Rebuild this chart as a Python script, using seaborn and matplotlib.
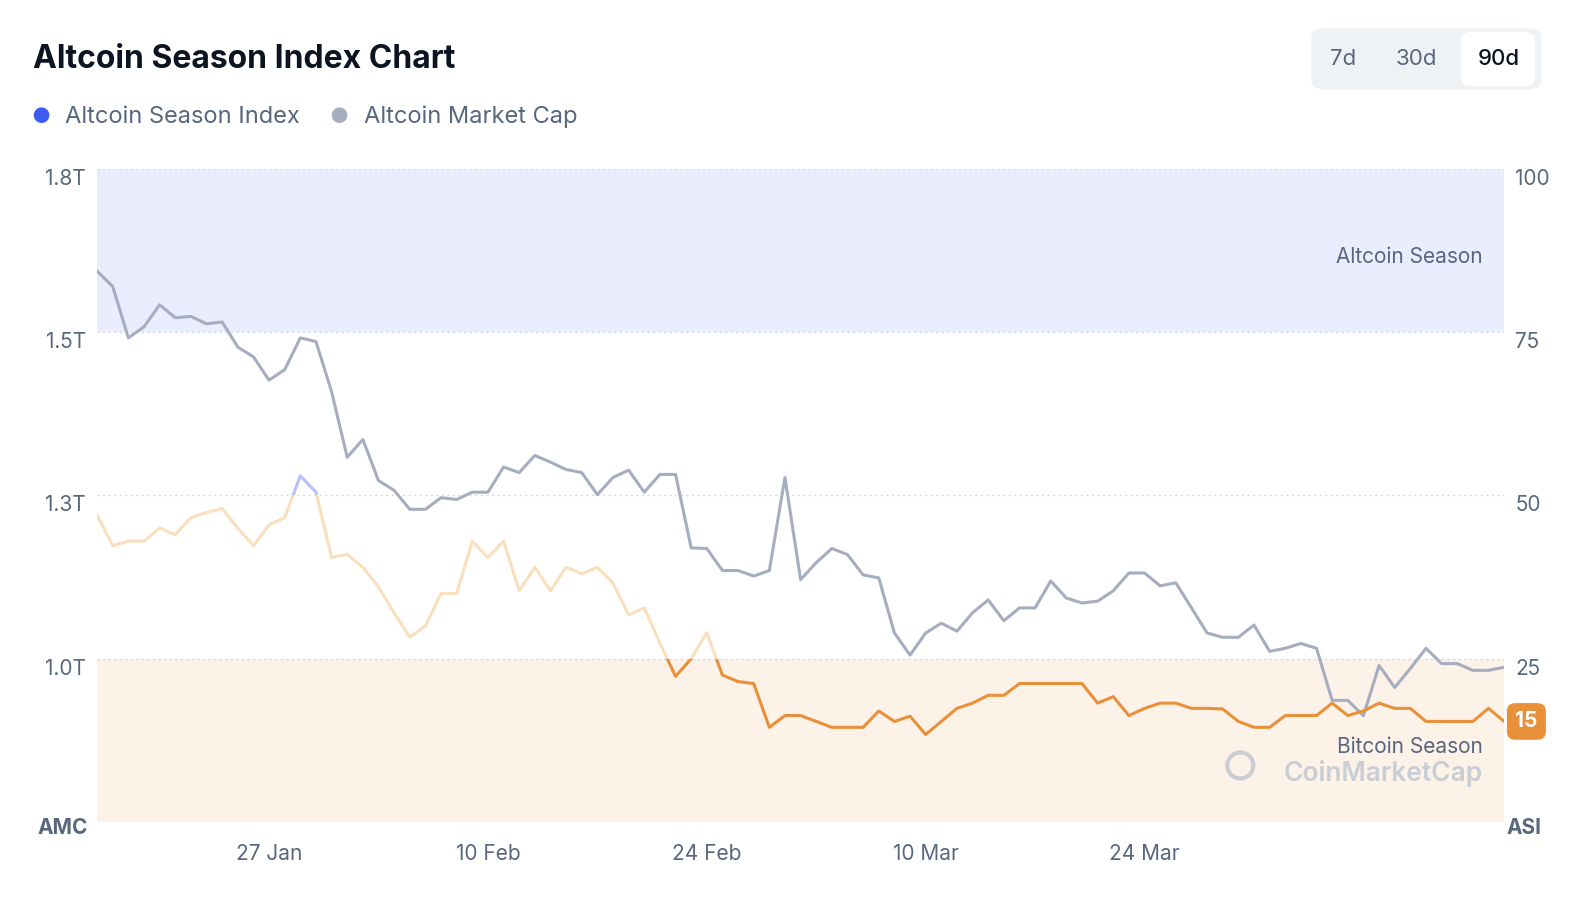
import numpy as np
import pandas as pd
import matplotlib.pyplot as plt
import seaborn as sns
from matplotlib.patches import Rectangle, FancyBboxPatch, Ellipse

plt.rcParams["font.family"] = "Inter"

dates = pd.date_range("2025-01-16", periods=91, freq="D")

season_index = [47, 42.3, 43, 43, 45, 44, 46.6, 47.4, 48, 45, 42.3, 45.5, 46.6, 53, 50.5,
                40.5, 41, 39, 36, 32, 28.3, 30, 35, 35, 43, 40.5, 43, 35.4, 39, 35.4,
                39, 38, 39, 36.6, 31.7, 32.8, 27.4, 22.3, 25, 29, 22.5, 21.5, 21.2, 14.5, 16.3,
                16.3, 15.4, 14.5, 14.5, 14.5, 17, 15.4, 16.2, 13.4, 15.4, 17.4, 18.2, 19.4, 19.4, 21.2,
                21.2, 21.2, 21.2, 21.2, 18.2, 19.2, 16.3, 17.4, 18.2, 18.2, 17.4, 17.4, 17.3, 15.4, 14.5,
                14.5, 16.3, 16.3, 16.3, 18.2, 16.3, 17, 18.2, 17.4, 17.4, 15.4, 15.4, 15.4, 15.4, 17.4, 15.4]

market_cap = [1.633, 1.608, 1.524, 1.542, 1.578, 1.557, 1.559, 1.547, 1.550, 1.509, 1.493, 1.455,
              1.472, 1.524, 1.518, 1.436, 1.329, 1.358, 1.291, 1.275, 1.244, 1.244, 1.263, 1.260,
              1.272, 1.272, 1.313, 1.304, 1.332, 1.321, 1.309, 1.304, 1.268, 1.296, 1.308, 1.272,
              1.301, 1.301, 1.181, 1.180, 1.144, 1.144, 1.135, 1.144, 1.296, 1.129, 1.157, 1.180,
              1.170, 1.137, 1.132, 1.042, 1.006, 1.042, 1.058, 1.045, 1.075, 1.096, 1.062, 1.083,
              1.083, 1.127, 1.099, 1.091, 1.094, 1.111, 1.140, 1.140, 1.119, 1.124, 1.083, 1.042,
              1.035, 1.035, 1.055, 1.012, 1.017, 1.025, 1.017, 0.932, 0.932, 0.907, 0.989, 0.953,
              0.984, 1.017, 0.992, 0.992, 0.981, 0.981, 0.986]

cap_ticks = [1.0, 1.2667, 1.5333, 1.8]
cap_labels = ["1.0T", "1.3T", "1.5T", "1.8T"]
index_ticks = [25, 50, 75, 100]
date_ticks = ["2025-01-27", "2025-02-10", "2025-02-24", "2025-03-10", "2025-03-24"]
date_labels = ["27 Jan", "10 Feb", "24 Feb", "10 Mar", "24 Mar"]

df = pd.DataFrame({"date": dates, "index": season_index, "cap": market_cap})

GRAY_TXT = "#58667e"
fig = plt.figure(figsize=(15.76, 9.08), dpi=100)
ax = fig.add_axes([0.0616, 0.0947, 0.8928, 0.7193])
ax2 = ax.twinx()

ax.set_ylim(0.7333, 1.8)
ax2.set_ylim(0, 100)
ax.set_xlim(dates[0], dates[-1])

# zone bands and grid live on the lower axes so the lines stay visible
ax.axhspan(1.5333, 1.8, color="#eaedfd", zorder=0, lw=0)
ax.axhspan(0.7333, 1.0, color="#fdf2e8", zorder=0, lw=0)
for t in cap_ticks:
    ax.axhline(t, color="#d5d9e0", lw=1, ls=(0, (1.5, 2.5)), zorder=1)

sns.lineplot(data=df, x="date", y="cap", ax=ax, color="#a7adc0", lw=2.2, zorder=3)

# index line colored by zone
zones = [(25, 50, "#f8dfbd"), (50, 100, "#b9c0f3"), (0, 25, "#e8913a")]
for lo, hi, c in zones:
    sns.lineplot(data=df, x="date", y="index", ax=ax2, color=c, lw=2.2)
    line = ax2.lines[-1]
    clip = Rectangle((0, lo), 1, hi - lo, transform=ax2.get_yaxis_transform())
    line.set_clip_path(clip)

for a in (ax, ax2):
    for s in a.spines.values():
        s.set_visible(False)
    a.set_xlabel("")
    a.set_ylabel("")
ax.set_zorder(ax2.get_zorder() - 1)
ax2.patch.set_visible(False)

ax.set_yticks(cap_ticks, cap_labels)
ax2.set_yticks(index_ticks, [str(t) for t in index_ticks])
for a in (ax, ax2):
    a.tick_params(axis="y", length=0, labelsize=15, labelcolor=GRAY_TXT, pad=8)
    for lab in a.get_yticklabels():
        lab.set_va("top")
ax.set_xticks(pd.to_datetime(date_ticks), date_labels)
ax.tick_params(axis="x", length=0, labelsize=15, labelcolor=GRAY_TXT, pad=16)
ax2.tick_params(axis="x", length=0)

fig.text(0.040, 0.088, "AMC", fontsize=15, fontweight="bold", color=GRAY_TXT, ha="center", va="center")
fig.text(0.967, 0.088, "ASI", fontsize=15, fontweight="bold", color=GRAY_TXT, ha="center", va="center")

ax2.text(0.985, 86.5, "Altcoin Season", transform=ax2.get_yaxis_transform(),
         ha="right", va="center", fontsize=15, color=GRAY_TXT)
ax2.text(0.985, 11.5, "Bitcoin Season", transform=ax2.get_yaxis_transform(),
         ha="right", va="center", fontsize=15, color=GRAY_TXT)
ax2.text(0.985, 7.5, "CoinMarketCap", transform=ax2.get_yaxis_transform(),
         ha="right", va="center", fontsize=19, fontweight="semibold", color="#c9cdd4")
fig.patches.append(Ellipse((0.787, 0.157), 0.0165, 0.0165 * 1576 / 908, transform=fig.transFigure,
                           fc="none", ec="#c9cdd4", lw=3))

# last value badge
ax2.annotate(str(int(round(season_index[-1]))), xy=(1.0, season_index[-1]),
             xycoords=ax2.get_yaxis_transform(), xytext=(16, 0), textcoords="offset points",
             ha="center", va="center", fontsize=15, fontweight="bold", color="white",
             bbox=dict(boxstyle="round,pad=0.4", fc="#e8913a", ec="none"))

fig.text(0.021, 0.935, "Altcoin Season Index Chart", fontsize=23, fontweight="bold",
         color="#0d1421", va="center")
fig.text(0.020, 0.871, "\u25CF", fontsize=15, color="#3d5af1", va="center")
fig.text(0.041, 0.871, "Altcoin Season Index", fontsize=17, color=GRAY_TXT, va="center")
fig.text(0.209, 0.871, "\u25CF", fontsize=15, color="#a7adc0", va="center")
fig.text(0.231, 0.871, "Altcoin Market Cap", fontsize=17, color=GRAY_TXT, va="center")

# period buttons
fig.patches.append(FancyBboxPatch((0.832, 0.901), 0.146, 0.068, boxstyle="round,pad=0,rounding_size=0.01",
                                  transform=fig.transFigure, fc="#eff2f5", ec="none"))
fig.patches.append(FancyBboxPatch((0.927, 0.905), 0.047, 0.060, boxstyle="round,pad=0,rounding_size=0.008",
                                  transform=fig.transFigure, fc="white", ec="none"))
fig.text(0.852, 0.935, "7d", fontsize=16, color=GRAY_TXT, ha="center", va="center")
fig.text(0.899, 0.935, "30d", fontsize=16, color=GRAY_TXT, ha="center", va="center")
fig.text(0.951, 0.935, "90d", fontsize=16, color="#0d1421", ha="center", va="center", fontweight="medium")

fig.savefig("out.png", dpi=100, facecolor="white")
